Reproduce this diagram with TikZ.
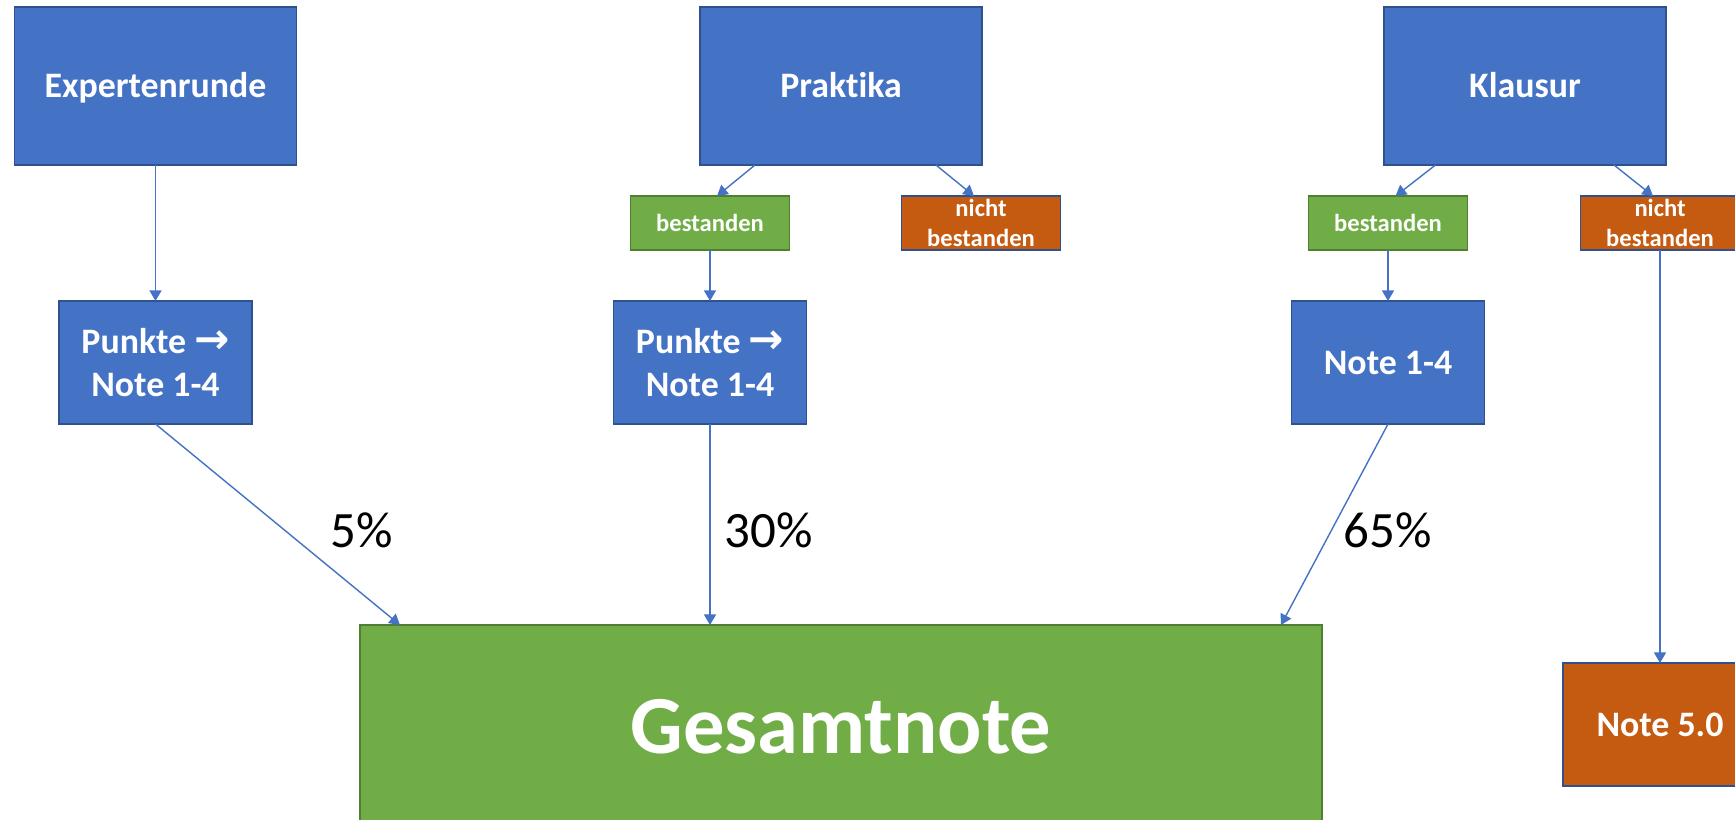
\documentclass[tikz,border=0pt]{standalone}
\usepackage{fontspec}
\setmainfont{Carlito}[Ligatures=NoCommon]
\newfontfamily\arrowfont{DejaVu Sans}
\usepackage{tikz}
\usetikzlibrary{arrows.meta, positioning}
\definecolor{offblue}{HTML}{4472C4}
\definecolor{offblueline}{HTML}{2F528F}
\definecolor{offgreen}{HTML}{70AD47}
\definecolor{offgreenline}{HTML}{507E32}
\definecolor{offorange}{HTML}{C55A11}

\newcommand{\toarrow}{{\arrowfont\bfseries\fontsize{12}{12.4}\selectfont →}}

\tikzset{
  box/.style={draw, line width=0.5pt, inner sep=0pt, outer sep=0pt, align=center,
              text=white, font=\bfseries\fontsize{10.2}{12.4}\selectfont},
  bigbox/.style={box, fill=offblue, draw=offblueline, minimum width=2.82cm, minimum height=1.58cm,
                 text height=6.6pt, text depth=0pt},
  notebox/.style={box, fill=offblue, draw=offblueline, minimum width=1.93cm, minimum height=1.23cm},
  okbox/.style={box, fill=offgreen, draw=offgreenline, minimum width=1.59cm, minimum height=0.54cm,
                font=\bfseries\fontsize{7}{8.5}\selectfont},
  failbox/.style={okbox, fill=offorange, draw=offblueline},
  endbox/.style={box, fill=offgreen, draw=offgreenline, minimum width=9.62cm, minimum height=2.04cm,
                 font=\bfseries\fontsize{23.5}{28}\selectfont},
  share/.style={font=\fontsize{14.5}{17}\selectfont},
  conn/.style={every edge/.style={draw=offblue, line width=0.4pt,
                                  -{Triangle[length=3pt,width=3.4pt]}}}
}

\begin{document}
\begin{tikzpicture}
  \useasboundingbox (0,0) rectangle (17.35,-8.19);

  \node[bigbox] (exp) at (1.555,-0.86) {Expertenrunde};
  \node[bigbox] (prak) at (8.41,-0.86) {Praktika};
  \node[bigbox] (klaus) at (15.25,-0.86) {Klausur};

  \node[okbox] (bp) at (7.10,-2.23) {bestanden};
  \node[failbox] (np) at (9.81,-2.23) {nicht\\bestanden};
  \node[okbox] (bk) at (13.88,-2.23) {bestanden};
  \node[failbox] (nk) at (16.60,-2.23) {nicht\\bestanden};

  \node[notebox] (pe) [below=1.36cm of exp] {Punkte \toarrow\\Note 1-4};
  \node[notebox] (pp) [below=0.51cm of bp] {Punkte \toarrow\\Note 1-4};
  \node[notebox] (nkl) [below=0.51cm of bk] {Note 1-4};

  \node[endbox] (ges) at (8.41,-7.27) {Gesamtnote};
  \node[failbox, minimum width=1.94cm, minimum height=1.23cm,
        font=\bfseries\fontsize{10.2}{12.4}\selectfont] (n5) [below=4.13cm of nk] {Note 5.0};

  \node[share] (p5) at (3.62,-5.30) {5\%};
  \node[share] (p30) at (7.69,-5.30) {30\%};
  \node[share] (p65) at (13.88,-5.30) {65\%};

  \path[conn] (exp) edge (pe)
              ([xshift=-0.86cm]prak.south) edge ([xshift=0.07cm]bp.north)
              ([xshift=0.95cm]prak.south) edge ([xshift=-0.07cm]np.north)
              (bp) edge (pp)
              ([xshift=-0.895cm]klaus.south) edge ([xshift=0.076cm]bk.north)
              ([xshift=0.89cm]klaus.south) edge ([xshift=-0.07cm]nk.north)
              (bk) edge (nkl)
              (nk) edge (n5);

  \path[conn] (pe.south) edge ([xshift=-4.41cm]ges.north)
              (pp.south) edge (pp.south |- ges.north)
              (nkl.south) edge ([xshift=4.40cm]ges.north);
\end{tikzpicture}
\end{document}
